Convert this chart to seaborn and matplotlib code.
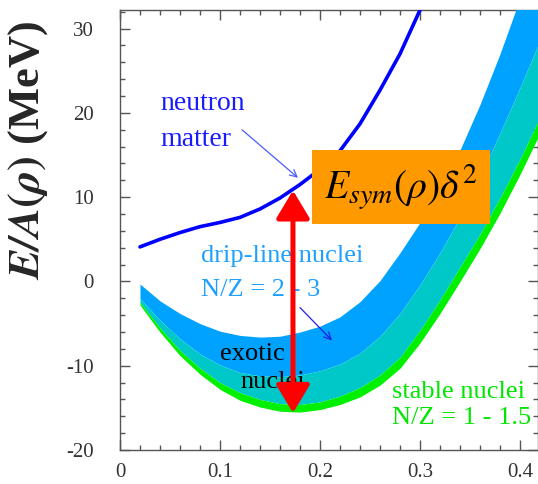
import numpy as np
import pandas as pd
import matplotlib as mpl
import matplotlib.pyplot as plt
import seaborn as sns

sns.set_style("ticks")
plt.rcParams["font.family"] = ["Liberation Serif", "DejaVu Serif"]
plt.rcParams["mathtext.fontset"] = "stix"
mpl.rcParams["axes.unicode_minus"] = False

# density grid for the nuclei bands
rho = [0.02, 0.04, 0.06, 0.08, 0.10, 0.12, 0.14, 0.16, 0.18, 0.20, 0.22,
       0.24, 0.26, 0.28, 0.30, 0.32, 0.34, 0.36, 0.38, 0.40, 0.42]
drip_top = [-0.3, -2.3, -3.8, -5.0, -5.9, -6.4, -6.6, -6.5, -6.0, -5.3, -4.2,
            -2.4, 0.1, 3.4, 7.0, 11.0, 15.6, 21.0, 27.0, 33.6, 40.5]
drip_low = [-2.0, -4.6, -6.8, -8.6, -9.9, -10.8, -11.2, -11.3, -11.1, -10.6, -9.8,
            -8.5, -6.5, -3.8, -0.4, 3.4, 7.6, 12.4, 17.6, 23.0, 28.6]
stable_top = [-2.5, -5.5, -8.2, -10.3, -12.0, -13.2, -14.0, -14.5, -14.6, -14.3, -13.6,
              -12.6, -11.1, -9.0, -5.8, -2.2, 1.7, 5.6, 9.9, 14.5, 19.5]
stable_low = [-2.8, -6.0, -8.8, -11.0, -12.8, -14.1, -14.9, -15.4, -15.5, -15.2, -14.6,
              -13.7, -12.3, -10.3, -7.3, -3.8, 0.0, 3.9, 8.1, 12.7, 17.6]

# pure neutron matter
neutron_rho = [0.02, 0.04, 0.06, 0.08, 0.10, 0.12, 0.14, 0.16, 0.18, 0.20,
               0.22, 0.24, 0.26, 0.28, 0.30]
neutron_e = [4.1, 5.0, 5.8, 6.5, 7.0, 7.6, 8.6, 9.9, 11.5, 13.3,
             15.5, 18.7, 22.7, 27.0, 32.2]

xticks = [0, 0.1, 0.2, 0.3, 0.4]
xticklabels = ["0", "0.1", "0.2", "0.3", "0.4"]
yticks = [-20, -10, 0, 10, 20, 30]

bands = pd.DataFrame({"rho": rho, "drip_top": drip_top, "drip_low": drip_low,
                      "stable_top": stable_top, "stable_low": stable_low})
nm = pd.DataFrame({"rho": neutron_rho, "E": neutron_e})

fig = plt.figure(figsize=(5.38, 4.84), dpi=100)
ax = fig.add_axes([0.223, 0.0702, 0.777, 0.909])

ax.fill_between(bands["rho"], bands["drip_low"], bands["drip_top"], color="#00a2ff", lw=0, zorder=3)
ax.fill_between(bands["rho"], bands["stable_top"], bands["drip_low"], color="#00c8c8", lw=0, zorder=3)
ax.fill_between(bands["rho"], bands["stable_low"], bands["stable_top"], color="#00f000", lw=0, zorder=3)

sns.lineplot(data=nm, x="rho", y="E", color="#0000ff", lw=2.6, ax=ax, zorder=4)

ax.set_xlim(0, 0.418)
ax.set_ylim(-20, 32.2)
ax.set_xticks(xticks)
ax.set_xticklabels(xticklabels)
ax.set_yticks(yticks)
ax.xaxis.set_minor_locator(mpl.ticker.MultipleLocator(0.02))
ax.yaxis.set_minor_locator(mpl.ticker.MultipleLocator(2))
ax.tick_params(which="both", direction="in", top=True, right=True, color="#555555",
               labelsize=15, labelcolor="#333333", width=1.0)
ax.tick_params(which="major", length=7)
ax.tick_params(which="minor", length=3.5)
ax.tick_params(axis="y", which="both", pad=19)
ax.tick_params(axis="x", which="both", pad=9)
for s in ax.spines.values():
    s.set_color("#555555")
    s.set_linewidth(1.0)
    s.set_visible(True)
ax.set_xlabel("")
ax.set_ylabel(r"$\mathbfit{E/A}\mathbf{(}\mathbfit{\rho}\mathbf{)}$ (MeV)", fontsize=32,
              fontweight="bold")
ax.yaxis.set_label_coords(-0.167, 0.68)

# labels
blue_txt = "#1a1aff"
ax.text(0.040, 20.3, "neutron", color=blue_txt, fontsize=20, va="baseline", zorder=6)
ax.text(0.040, 16.1, "matter", color=blue_txt, fontsize=20, va="baseline", zorder=6)
ax.annotate("", xy=(0.178, 12.3), xytext=(0.122, 18.0),
            arrowprops=dict(arrowstyle="->,head_length=0.5,head_width=0.25", color="#4a5cff",
                            lw=0.9, shrinkA=0, shrinkB=0), zorder=6)

drip_c = "#1ea0ff"
ax.text(0.081, 2.3, "drip-line nuclei", color=drip_c, fontsize=19, va="baseline", zorder=6)
ax.text(0.081, -1.75, "N/Z = 2 - 3", color=drip_c, fontsize=19, va="baseline", zorder=6)
ax.annotate("", xy=(0.212, -7.0), xytext=(0.180, -3.1),
            arrowprops=dict(arrowstyle="->,head_length=0.5,head_width=0.25", color="#2020e0",
                            lw=0.9, shrinkA=0, shrinkB=0), zorder=6)

ax.text(0.100, -9.3, "exotic", color="black", fontsize=19, va="baseline", zorder=6)
ax.text(0.120, -12.6, "nuclei", color="black", fontsize=19, va="baseline", zorder=6)

green_c = "#00e600"
ax.text(0.272, -13.8, "stable nuclei", color=green_c, fontsize=19, va="baseline", zorder=6)
ax.text(0.272, -16.9, "N/Z = 1 - 1.5", color=green_c, fontsize=19, va="baseline", zorder=6)

# symmetry energy arrow and box
ax.annotate("", xy=(0.173, 10.8), xytext=(0.173, -15.6),
            arrowprops=dict(arrowstyle="<|-|>,head_length=0.45,head_width=0.27", color="#ff0000",
                            lw=3.6, mutation_scale=38, shrinkA=0, shrinkB=0), zorder=7)
ax.text(0.281, 11.2, r"$E_{sym}(\rho)\delta^2$", fontsize=28.5, ha="center", va="center",
        color="black", zorder=8,
        bbox=dict(boxstyle="square,pad=0.3", fc="#ff9900", ec="none"))

fig.savefig("out.png", dpi=100)
